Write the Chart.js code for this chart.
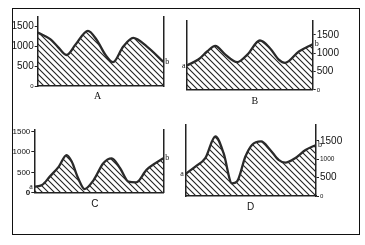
<!DOCTYPE html>
<html><head><meta charset="utf-8">
<script src="https://cdn.jsdelivr.net/npm/chart.js@4/dist/chart.umd.min.js"></script>
<style>
html,body{margin:0;padding:0;background:#fff;width:365px;height:245px;overflow:hidden}
#frame{position:absolute;left:12px;top:8px;width:348px;height:227px;box-sizing:border-box;border:1.5px solid #111;}
canvas{position:absolute;left:0;top:0}
</style></head><body>
<div id="frame"></div>
<canvas id="cA" width="365" height="245"></canvas>
<canvas id="cB" width="365" height="245"></canvas>
<canvas id="cC" width="365" height="245"></canvas>
<canvas id="cD" width="365" height="245"></canvas>
<script>
// ---- data ----
const tickValues = [0, 500, 1000, 1500];
const tickLabels = ['0', '500', '1000', '1500'];
const panelNames = ['A', 'B', 'C', 'D'];

const xsA = [0, 10, 16, 23, 30, 40, 47, 54, 60, 68, 76, 87, 100];
const valuesA = [1340, 1170, 980, 775, 1030, 1380, 1150, 775, 595, 980, 1205, 985, 605];

const xsB = [0, 9, 16, 22.5, 30.5, 40, 48, 58, 66, 73, 78, 89, 100];
const valuesB = [670, 830, 1050, 1205, 965, 760, 965, 1350, 1140, 830, 740, 1050, 1250];

const xsC = [0, 6, 12, 19, 25, 29, 34, 39, 46, 53.5, 60, 66.5, 73, 79, 87, 100];
const valuesC = [150, 190, 395, 640, 925, 765, 355, 90, 310, 725, 845, 600, 270, 255, 560, 845];

const xsD = [0, 7.7, 15.3, 23, 29.3, 35.7, 39.5, 46, 51, 58, 65, 71.4, 76.5, 84, 92, 100];
const valuesD = [600, 800, 1030, 1620, 1165, 345, 390, 1075, 1390, 1485, 1255, 985, 910, 1030, 1255, 1390];

// ---- drawing ----
function hatch(){
  const s = 6, c = document.createElement('canvas'); c.width = s; c.height = s;
  const g = c.getContext('2d'); g.strokeStyle = '#222'; g.lineWidth = 1.1;
  g.beginPath();
  g.moveTo(-1,-1); g.lineTo(s+1,s+1);
  g.moveTo(-1,s-1); g.lineTo(1,s+1);
  g.moveTo(s-1,-1); g.lineTo(s+1,1);
  g.stroke();
  return g.createPattern(c, 'repeat');
}
const pattern = hatch();

const annot = {
  id: 'annot',
  afterDatasetsDraw(chart, args, o) {
    const {ctx, chartArea: ca} = chart;
    const ys = chart.scales.y;
    const vals = chart.data.datasets[0].data;
    ctx.save();
    ctx.fillStyle = '#111';
    ctx.font = o.font;
    ctx.textAlign = 'center'; ctx.textBaseline = 'middle';
    ctx.fillText(o.name, (ca.left + ca.right) / 2 + o.dx, ca.bottom + o.dy);
    ctx.font = '8px "Liberation Serif"';
    if (o.a) { ctx.textAlign = 'right'; ctx.fillText('a', ca.left - 1.5, ys.getPixelForValue(vals[0].y)); }
    if (o.b) { ctx.textAlign = 'left'; ctx.fillText('b', ca.right + 2, ys.getPixelForValue(vals[vals.length-1].y)); }
    ctx.restore();
  }
};

const BC = '#222';
function makePanel(id, xs, vals, side, area, max, fontFn, lab) {
  const W = 28;
  const other = side === 'left' ? 'right' : 'left';
  const pad = side === 'left'
    ? {left: area.L - W, right: 365 - area.R, top: area.T, bottom: 245 - area.B}
    : {left: area.L, right: 365 - area.R - W, top: area.T, bottom: 245 - area.B};
  new Chart(document.getElementById(id), {
    type: 'line',
    data: { datasets: [{
      data: xs.map((x, i) => ({x, y: vals[i]})),
      borderColor: '#2a2a2a', borderWidth: 2.3, pointRadius: 0,
      fill: 'origin', backgroundColor: pattern,
      cubicInterpolationMode: 'monotone', tension: 0.4
    }]},
    options: {
      responsive: false, animation: false, devicePixelRatio: 1,
      layout: {padding: pad},
      plugins: {legend: {display: false}, tooltip: {enabled: false}, annot: lab},
      scales: {
        x: {type: 'linear', min: 0, max: 100, ticks: {display: false},
            grid: {display: false, drawTicks: false},
            border: {display: true, color: BC, width: 1.5},
            afterFit: s => { s.height = 0; }},
        y: {type: 'linear', position: side, min: 0, max: max,
            afterBuildTicks: s => { s.ticks = tickValues.map(v => ({value: v})); },
            ticks: {autoSkip: false, color: '#111', padding: 1,
                    callback: v => tickLabels[tickValues.indexOf(v)], font: fontFn},
            grid: {display: true, drawOnChartArea: false, drawTicks: true, tickLength: 3, color: BC},
            border: {display: true, color: BC, width: 1.5},
            afterFit: s => { s.width = W; }},
        y2: {type: 'linear', position: other, min: 0, max: max,
             ticks: {display: false}, grid: {display: false, drawTicks: false},
             border: {display: true, color: BC, width: 1.5},
             afterFit: s => { s.width = 0; }}
      }
    },
    plugins: [annot]
  });
}

const fam = 'Liberation Sans';
const fontAB = c => (c.tick && c.tick.value === 0) ? {size: 6, family: fam} : {size: 10, family: fam};
const fontC = c => (c.tick && c.tick.value === 0) ? {size: 8, family: fam, weight: 'bold'} : {size: 8, family: fam};
const fontD = c => {
  const v = c.tick ? c.tick.value : 0;
  if (v === 0) return {size: 6, family: fam};
  if (v === 1000) return {size: 6.5, family: fam};
  return {size: 10, family: fam};
};

makePanel('cA', xsA, valuesA, 'left',  {L: 37.7, R: 163.3, T: 17,    B: 86},    1725, fontAB,
  {name: panelNames[0], font: '10px "Liberation Serif"', dx: -3, dy: 10.7, a: false, b: true});
makePanel('cB', xsB, valuesB, 'right', {L: 187,  R: 312.7, T: 20.3,  B: 90},    1900, fontAB,
  {name: panelNames[1], font: '10px "Liberation Serif"', dx: 5, dy: 11.7, a: true, b: true});
makePanel('cC', xsC, valuesC, 'left',  {L: 34.3, R: 163.3, T: 129.6, B: 192.7}, 1550, fontC,
  {name: panelNames[2], font: '10px "Liberation Sans"', dx: -4, dy: 11.6, a: true, b: true});
makePanel('cD', xsD, valuesD, 'right', {L: 185.3, R: 316,  T: 124.4, B: 196},   1950, fontD,
  {name: panelNames[3], font: '10px "Liberation Sans"', dx: 0, dy: 11.7, a: true, b: true});
</script>
</body></html>
